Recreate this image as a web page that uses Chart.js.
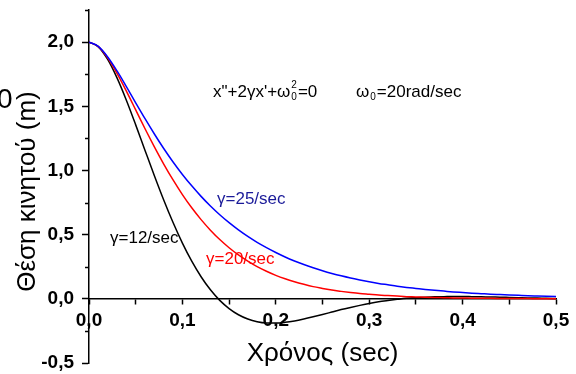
<!DOCTYPE html>
<html>
<head>
<meta charset="utf-8">
<script src="https://cdn.jsdelivr.net/npm/chart.js@4"></script>
<style>
  html, body { margin: 0; padding: 0; background: #fff; }
</style>
</head>
<body>
<canvas id="myChart" width="576" height="374"></canvas>
<script>
// time axis (sec) and position of the body (m) for the three damping values
const timeSec = [0, 0.01, 0.02, 0.03, 0.04, 0.05, 0.06, 0.07, 0.08, 0.09,
  0.1, 0.11, 0.12, 0.13, 0.14, 0.15, 0.16, 0.17, 0.18, 0.19,
  0.2, 0.21, 0.22, 0.23, 0.24, 0.25, 0.26, 0.27, 0.28, 0.29,
  0.3, 0.31, 0.32, 0.33, 0.34, 0.35, 0.36, 0.37, 0.38, 0.39,
  0.4, 0.41, 0.42, 0.43, 0.44, 0.45, 0.46, 0.47, 0.48, 0.49, 0.5];

const gamma12 = [2.000, 1.963, 1.865, 1.721, 1.547, 1.355, 1.156, 0.959, 0.770, 0.594,
  0.434, 0.293, 0.172, 0.070, -0.012, -0.076, -0.124, -0.157, -0.178, -0.188,
  -0.189, -0.183, -0.172, -0.157, -0.140, -0.122, -0.103, -0.084, -0.067, -0.051,
  -0.036, -0.023, -0.013, -0.004, 0.004, 0.009, 0.013, 0.016, 0.017, 0.018,
  0.018, 0.017, 0.016, 0.014, 0.013, 0.011, 0.009, 0.007, 0.006, 0.004, 0.003];

const gamma20 = [2.000, 1.965, 1.877, 1.756, 1.618, 1.472, 1.325, 1.184, 1.050, 0.926,
  0.812, 0.709, 0.617, 0.535, 0.462, 0.398, 0.342, 0.294, 0.251, 0.215,
  0.183, 0.156, 0.133, 0.113, 0.095, 0.081, 0.068, 0.058, 0.049, 0.041,
  0.035, 0.029, 0.025, 0.021, 0.017, 0.015, 0.012, 0.010, 0.009, 0.007,
  0.006, 0.005, 0.004, 0.004, 0.003, 0.002, 0.002, 0.002, 0.001, 0.001, 0.001];

const gamma25 = [2.000, 1.966, 1.884, 1.775, 1.653, 1.527, 1.403, 1.284, 1.171, 1.066,
  0.969, 0.880, 0.798, 0.723, 0.655, 0.593, 0.537, 0.486, 0.440, 0.399,
  0.361, 0.326, 0.295, 0.267, 0.242, 0.219, 0.198, 0.179, 0.162, 0.147,
  0.133, 0.120, 0.109, 0.098, 0.089, 0.081, 0.073, 0.066, 0.060, 0.054,
  0.049, 0.044, 0.040, 0.036, 0.033, 0.030, 0.027, 0.024, 0.022, 0.020, 0.018];

const xLabelStep = 0.1;
const yLabelStep = 0.5;

const FONT = '"Liberation Sans", Arial, sans-serif';

function toPoints(values) {
  return values.map((v, i) => ({ x: timeSec[i], y: v }));
}

function isMultiple(v, step) {
  const r = v / step;
  return Math.abs(r - Math.round(r)) < 1e-6;
}

function commaLabel(v) {
  return v.toFixed(1).replace(".", ",");
}

// texts, titles and the short minor ticks of the y axis
const extraText = {
  id: "extraText",
  afterDraw(chart) {
    const { ctx } = chart;
    const y = chart.scales.y;
    ctx.save();

    // minor ticks (short) on y axis
    ctx.strokeStyle = "#000";
    ctx.lineWidth = 1.5;
    y.ticks.forEach((t) => {
      if (!isMultiple(t.value, yLabelStep)) {
        const py = Math.round(y.getPixelForValue(t.value)) + 0.5;
        ctx.beginPath();
        ctx.moveTo(y.right - 4, py);
        ctx.lineTo(y.right, py);
        ctx.stroke();
      }
    });

    ctx.fillStyle = "#000";
    ctx.textBaseline = "alphabetic";

    // y axis title
    ctx.save();
    ctx.translate(35, 191.5);
    ctx.rotate(-Math.PI / 2);
    ctx.textAlign = "center";
    ctx.font = "26px " + FONT;
    ctx.fillText("Θέση κινητού (m)", 0, 0);
    ctx.restore();

    // stray glyph at the left edge
    ctx.textAlign = "left";
    ctx.font = "28px " + FONT;
    ctx.fillText("0", -3, 108);

    // equation
    ctx.font = "17px " + FONT;
    let px = 213;
    const base = 97;
    const part1 = 'x"+2γx\'+ω';
    ctx.fillText(part1, px, base);
    px += ctx.measureText(part1).width + 1;
    ctx.font = "10px " + FONT;
    ctx.fillText("2", px, base - 9);
    ctx.fillText("0", px, base + 3);
    px += ctx.measureText("0").width + 1;
    ctx.font = "17px " + FONT;
    ctx.fillText("=0", px, base);

    px = 356;
    ctx.fillText("ω", px, base);
    px += ctx.measureText("ω").width + 1;
    ctx.font = "10px " + FONT;
    ctx.fillText("0", px, base + 3);
    px += ctx.measureText("0").width + 1;
    ctx.font = "17px " + FONT;
    ctx.fillText("=20rad/sec", px, base);

    // curve labels
    ctx.fillStyle = "#1a1a99";
    ctx.fillText("γ=25/sec", 217, 204);
    ctx.fillStyle = "#ff0000";
    ctx.fillText("γ=20/sec", 206, 264);
    ctx.fillStyle = "#000";
    ctx.fillText("γ=12/sec", 110, 243);

    ctx.restore();
  },
};

const ctx = document.getElementById("myChart").getContext("2d");
const myChart = new Chart(ctx, {
  type: "line",
  data: {
    datasets: [
      {
        label: "γ=25/sec",
        data: toPoints(gamma25),
        borderColor: "#0000ff",
        borderWidth: 1.5,
        pointRadius: 0,
        cubicInterpolationMode: "monotone",
      },
      {
        label: "γ=20/sec",
        data: toPoints(gamma20),
        borderColor: "#ff0000",
        borderWidth: 1.5,
        pointRadius: 0,
        cubicInterpolationMode: "monotone",
      },
      {
        label: "γ=12/sec",
        data: toPoints(gamma12),
        borderColor: "#000000",
        borderWidth: 1.5,
        pointRadius: 0,
        cubicInterpolationMode: "monotone",
      },
    ],
  },
  options: {
    responsive: false,
    animation: false,
    devicePixelRatio: 1,
    layout: { padding: { top: 10, right: 20, bottom: 11, left: 0 } },
    plugins: {
      legend: { display: false },
      tooltip: { enabled: false },
    },
    scales: {
      x: {
        type: "linear",
        position: { y: 0 },
        min: 0,
        max: 0.5,
        afterFit: (scale) => {
          scale.paddingLeft = 0;
          scale.paddingRight = 0;
        },
        border: { display: true, color: "#000", width: 1.5 },
        grid: {
          drawOnChartArea: false,
          drawTicks: true,
          tickLength: 5,
          tickColor: "#000",
          tickWidth: 1.5,
        },
        ticks: {
          stepSize: 0.05,
          autoSkip: false,
          maxRotation: 0,
          padding: 6,
          color: "#000",
          font: { family: FONT, size: 19, weight: "bold" },
          callback: (v) => (isMultiple(v, xLabelStep) ? commaLabel(v) : ""),
        },
        title: {
          display: true,
          text: "Χρόνος (sec)",
          color: "#000",
          font: { family: FONT, size: 26 },
          padding: { top: 0, bottom: 0 },
        },
      },
      y: {
        type: "linear",
        min: -0.5,
        max: 2.25,
        afterFit: (scale) => {
          scale.width = 89;
          scale.paddingTop = 0;
          scale.paddingBottom = 0;
        },
        border: { display: true, color: "#000", width: 1.5 },
        grid: {
          drawOnChartArea: false,
          drawTicks: true,
          tickLength: 7,
          tickWidth: 1.5,
          tickColor: (c) =>
            c.tick && isMultiple(c.tick.value, yLabelStep) ? "#000" : "rgba(0,0,0,0)",
        },
        ticks: {
          stepSize: 0.25,
          autoSkip: false,
          padding: 8,
          color: "#000",
          font: { family: FONT, size: 19, weight: "bold" },
          callback: (v) => (isMultiple(v, yLabelStep) ? commaLabel(v) : ""),
        },
      },
    },
  },
  plugins: [extraText],
});
</script>
</body>
</html>
